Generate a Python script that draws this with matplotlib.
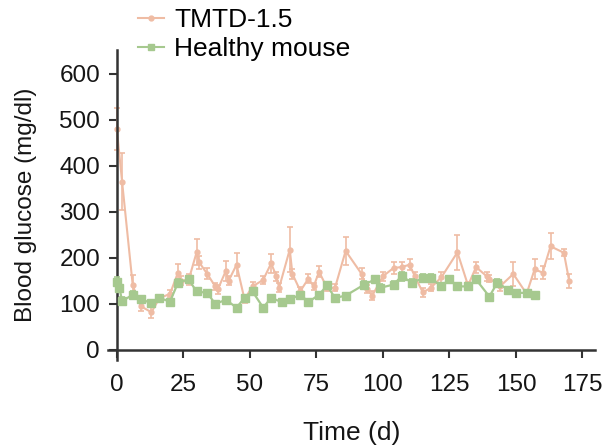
import matplotlib
matplotlib.use("Agg")
import matplotlib.pyplot as plt
from matplotlib.lines import Line2D

plt.rcParams['font.family'] = ['Liberation Sans', 'DejaVu Sans']

tmtd_days = [0, 2, 6, 9, 13, 16, 20, 23, 24, 27, 30, 31, 34, 37, 38, 41, 42, 45, 48, 51,
             55, 58, 60, 61, 65, 66, 69, 72, 74, 76, 79, 82, 86, 92, 94, 96, 100, 104,
             107, 110, 112, 115, 118, 122, 128, 132, 135, 139, 140, 144, 149, 154, 157,
             160, 163, 168, 170]
tmtd_vals = [480, 365, 140, 95, 82, 112, 122, 168, 150, 152, 212, 190, 165, 138, 132, 172,
             150, 185, 110, 138, 152, 188, 160, 135, 218, 165, 128, 155, 138, 170, 135, 135,
             215, 165, 132, 118, 160, 178, 180, 185, 160, 125, 135, 158, 212, 140, 180, 160,
             155, 138, 165, 122, 175, 168, 225, 211, 150]
tmtd_err = [45, 62, 22, 10, 12, 8, 8, 18, 10, 12, 28, 15, 12, 8, 10, 22, 10, 25, 8, 10,
            8, 20, 10, 10, 48, 10, 8, 10, 8, 12, 8, 8, 30, 12, 8, 10, 10, 12, 12, 12, 10,
            10, 8, 12, 38, 8, 12, 10, 8, 10, 27, 8, 22, 14, 28, 8, 15]

healthy_days = [0, 1, 2, 6, 9, 13, 16, 20, 23, 27, 30, 34, 37, 41, 45, 48, 51, 55, 58, 62,
                65, 69, 72, 76, 79, 82, 86, 93, 97, 99, 104, 107, 111, 115, 118, 122, 125,
                128, 132, 135, 140, 143, 147, 150, 154, 157]
healthy_vals = [148, 135, 106, 120, 110, 102, 113, 105, 146, 153, 127, 124, 100, 109, 92,
                113, 127, 92, 113, 104, 110, 120, 104, 120, 140, 113, 118, 142, 153, 135,
                142, 160, 146, 156, 156, 138, 153, 138, 138, 153, 116, 146, 131, 124, 124,
                120]
healthy_err = [10, 8, 8, 8, 6, 6, 6, 6, 8, 8, 6, 6, 6, 6, 6, 6, 6, 6, 6, 6, 6, 6, 6, 6, 8,
               6, 6, 8, 8, 8, 8, 10, 8, 8, 8, 8, 8, 8, 8, 8, 6, 8, 6, 6, 6, 6]

xticks = [0, 25, 50, 75, 100, 125, 150, 175]
yticks = [0, 100, 200, 300, 400, 500, 600]
series_labels = ['TMTD-1.5', 'Healthy mouse']

orange = '#efbca4'
green = '#a6c98f'
txt = '#151515'

fig = plt.figure(figsize=(6.02, 4.46), dpi=100)
ax = fig.add_axes([108/602, (446-360)/446, 487/602, 310/446])

ax.errorbar(tmtd_days, tmtd_vals, yerr=tmtd_err, color=orange, marker='o', markersize=3.5,
            lw=1.5, elinewidth=1.2, capsize=2.5, capthick=1.2, zorder=2)
ax.errorbar(healthy_days, healthy_vals, yerr=healthy_err, color=green, marker='s',
            markersize=6, lw=1.6, elinewidth=1.2, capsize=2.5, capthick=1.2, zorder=3)

ax.set_xlim(-3.3, 179.7)
ax.set_ylim(-21.7, 651)
ax.spines['left'].set_position(('data', 0))
ax.spines['bottom'].set_position(('data', 0))
ax.spines['top'].set_visible(False)
ax.spines['right'].set_visible(False)
for s in ['left', 'bottom']:
    ax.spines[s].set_linewidth(1.8)
    ax.spines[s].set_color('#333333')
ax.set_xticks(xticks)
ax.set_yticks(yticks)
ax.tick_params(axis='both', direction='out', length=6, width=1.5, color='#333333',
               labelsize=17.5, labelcolor=txt)
ax.tick_params(axis='x', pad=11)
ax.tick_params(axis='y', pad=6)

ax.set_xlabel('Time (d)', fontsize=19, color=txt, labelpad=18)
ax.set_ylabel('Blood glucose (mg/dl)', fontsize=17.5, color=txt, labelpad=16)

handles = [Line2D([], [], color=orange, marker='o', markersize=3.5, lw=1.5),
           Line2D([], [], color=green, marker='s', markersize=5, lw=1.5)]
fig.legend(handles, series_labels, loc='upper left', bbox_to_anchor=(127/602, 1.006),
           frameon=False, fontsize=19, handlelength=1.0, handletextpad=0.4,
           labelspacing=0.2, borderaxespad=0)

fig.savefig('out.png', dpi=100)
